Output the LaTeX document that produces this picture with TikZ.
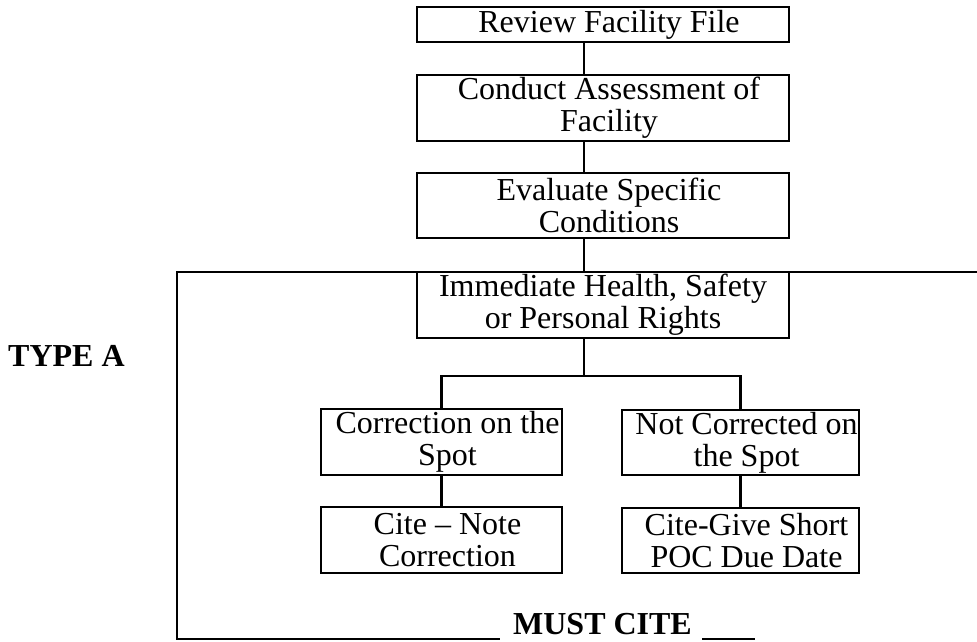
\documentclass[tikz,border=0pt]{standalone}
\usepackage{fontspec}
\setmainfont{Liberation Serif}
\newcommand{\ind}{\hspace*{12pt}}
\begin{document}
\begin{tikzpicture}[x=1pt,y=-1pt, line width=2.6pt,
  box/.style={draw, rectangle, inner sep=0pt, align=center, font=\fontsize{32}{32}\selectfont},
  lbl/.style={font=\fontsize{32}{32}\selectfont\bfseries, inner sep=0pt},
  link/.style={draw, line width=2.6pt}]
\useasboundingbox (0,0) rectangle (977,641);
% main column
\node[box, minimum width=372pt, minimum height=35pt] (b1) at (603,24.5) {\ind Review Facility File};
\node[box, minimum width=372pt, minimum height=66pt] (b2) at (603,108) {\ind Conduct Assessment of\\\ind Facility};
\node[box, minimum width=372pt, minimum height=65pt] (b3) at (603,205.5) {\ind Evaluate Specific\\\ind Conditions};
\node[box, minimum width=372pt, minimum height=66pt] (b4) at (603,305) {Immediate Health, Safety\\or Personal Rights};
% branches
\node[box, minimum width=241pt, minimum height=66pt] (c1) at (441.5,442) {\ind Correction on the\\\ind Spot};
\node[box, minimum width=237pt, minimum height=65pt] (c2) at (740.5,442.5) {\ind Not Corrected on\\\ind the Spot};
\node[box, minimum width=241pt, minimum height=66pt] (d1) at (441.5,540) {\ind Cite -- Note\\\ind Correction};
\node[box, minimum width=237pt, minimum height=65pt] (d2) at (740.5,540.5) {\ind Cite-Give Short\\\ind POC Due Date};
% connectors
\coordinate (sp) at (584,376);
\path[link] (b1.south -| sp) -- (b2.north -| sp);
\path[link] (b2.south -| sp) -- (b3.north -| sp);
\path[link] (b3.south -| sp) -- (b4.north -| sp);
\path[link] (b4.south -| sp) -- (sp);
\path[link] (c1.north) |- (sp) -| (c2.north);
\path[link] (c1.south) -- (d1.north);
\path[link] (c2.south) -- (d2.north);
% frame
\draw (977,272) -- (177,272) -- (177,639) -- (500,639);
\draw (702,639) -- (755,639);
% labels
\node[lbl, anchor=base east] (ta) at (126,366) {TYPE A};
\node[lbl, anchor=base] (mc) at (602.5,634) {MUST CITE};
\end{tikzpicture}
\end{document}
